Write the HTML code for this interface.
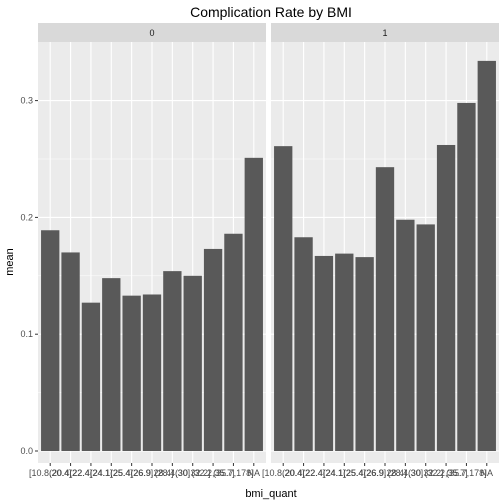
<!DOCTYPE html>
<html><head><meta charset="utf-8"><style>
body{margin:0;background:#fff}
svg{display:block;font-family:"Liberation Sans",sans-serif}
</style></head><body>
<svg id="c" width="504" height="504">
<text x="271" y="17" text-anchor="middle" font-size="14" fill="#000">Complication Rate by BMI</text>
<text x="271" y="497" text-anchor="middle" font-size="11" fill="#000">bmi_quant</text>
<text x="13" y="262" text-anchor="middle" font-size="11" fill="#000" transform="rotate(-90 13 262)">mean</text>
</svg>
<script>
const categories=["[10.8,20.4]","(20.4,22.4]","(22.4,24.1]","(24.1,25.4]","(25.4,26.9]","(26.9,28.4]","(28.4,30]","(30,32.2]","(32.2,35.7]","(35.7,178]","NA"];
const panels=["0","1"];
const values0=[0.189,0.170,0.127,0.148,0.133,0.134,0.154,0.150,0.173,0.186,0.251];
const values1=[0.261,0.183,0.167,0.169,0.166,0.243,0.198,0.194,0.262,0.298,0.334];
const yTicks=[0,0.1,0.2,0.3];
const yTickLabels=["0.0","0.1","0.2","0.3"];
const NS="http://www.w3.org/2000/svg";
const svg=document.getElementById('c');
const plotTop=42,plotBottom=463;
function y(v){return 451-v*1168;}
function mk(t,a){const e=document.createElementNS(NS,t);for(const k in a)e.setAttribute(k,a[k]);svg.appendChild(e);return e;}
const panelX=[38,271],pw=228;
const series=[values0,values1];
const n=categories.length;
const unit=pw/(n+0.2);
function x(p,i){return panelX[p]+(i+0.6)*unit;}
panels.forEach((p,pi)=>{
  const x0=panelX[pi];
  let s=mk('rect',{x:x0,y:23,width:pw,height:19,fill:'#d9d9d9'});
  
  
  let st=mk('text',{x:x0+pw/2,y:36,'text-anchor':'middle','font-size':9,fill:'#1a1a1a'});st.textContent=p;
  
  
  let bg=mk('rect',{x:x0,y:plotTop,width:pw,height:plotBottom-plotTop,fill:'#ebebeb'});
  
  
  for(let k=0;k<yTicks.length-1;k++){
    const m=(yTicks[k]+yTicks[k+1])/2;
    mk('line',{x1:x0,x2:x0+pw,y1:y(m),y2:y(m),stroke:'#fff','stroke-width':0.5});
  }
  yTicks.forEach(t=>mk('line',{x1:x0,x2:x0+pw,y1:y(t),y2:y(t),stroke:'#fff','stroke-width':1.1}));
  categories.forEach((c,i)=>mk('line',{x1:x(pi,i),x2:x(pi,i),y1:plotTop,y2:plotBottom,stroke:'#fff','stroke-width':1.1}));
  series[pi].forEach((v,i)=>{
    const b=mk('rect',{x:x(pi,i)-0.45*unit,y:y(v),width:0.9*unit,height:y(0)-y(v),fill:'#595959'});
    
    
  });
  categories.forEach((c,i)=>{
    mk('line',{x1:x(pi,i),x2:x(pi,i),y1:plotBottom,y2:plotBottom+3,stroke:'#333','stroke-width':1});
    const t=mk('text',{x:x(pi,i),y:476,'text-anchor':'middle','font-size':9,fill:'#4d4d4d'});t.textContent=c;
    
    
  });
});
yTicks.forEach((t,k)=>{
  mk('line',{x1:35,x2:38,y1:y(t),y2:y(t),stroke:'#333','stroke-width':1});
  const e=mk('text',{x:33,y:y(t)+3,'text-anchor':'end','font-size':9,fill:'#4d4d4d'});e.textContent=yTickLabels[k];
  
  
});
</script>
</body></html>
